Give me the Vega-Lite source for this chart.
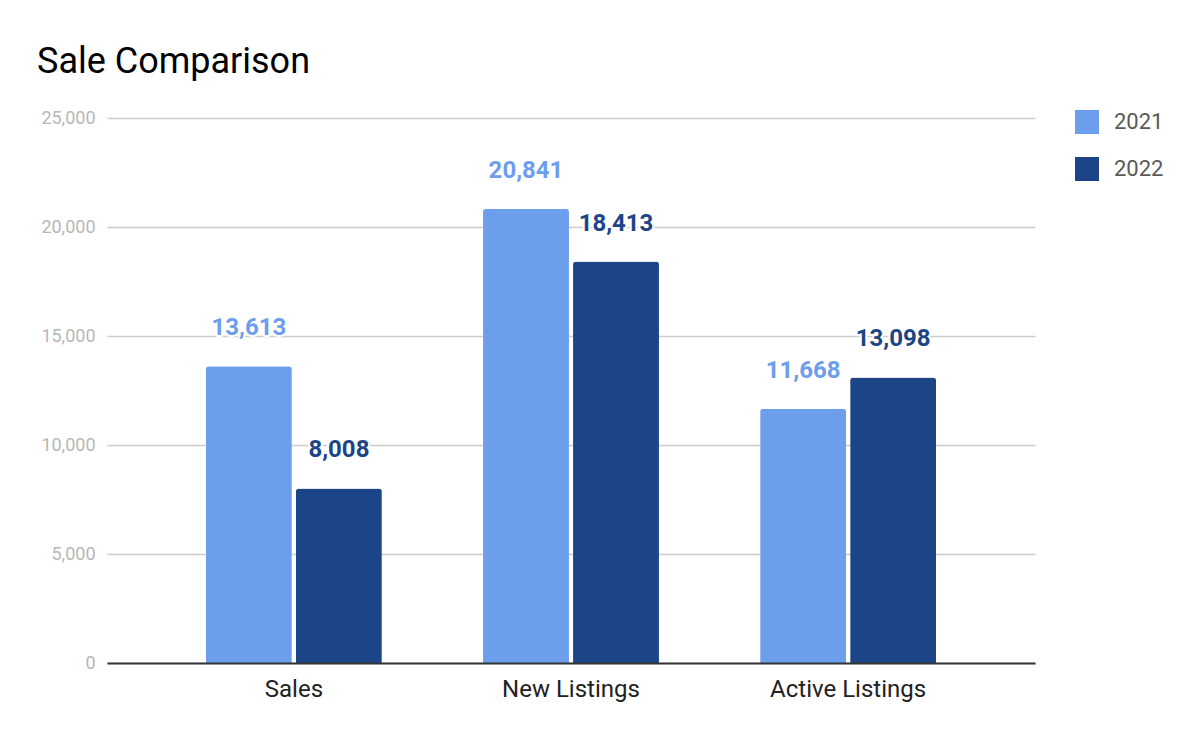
{
  "$schema": "https://vega.github.io/schema/vega-lite/v6.json",
  "width": 928,
  "height": 545,
  "autosize": {"type": "none"},
  "padding": {"left": 107, "top": 118, "right": 165, "bottom": 79},
  "background": "white",
  "config": {
    "font": "Roboto",
    "view": {"stroke": null}
  },
  "title": {
    "text": "Sale Comparison",
    "anchor": "start",
    "frame": "group",
    "dx": -70,
    "offset": 28,
    "fontSize": 36,
    "fontWeight": "normal",
    "color": "#000000",
    "font": "Roboto"
  },
  "data": {
    "values": [
      {"category": "Sales", "year": "2021", "value": 13613},
      {"category": "Sales", "year": "2022", "value": 8008},
      {"category": "New Listings", "year": "2021", "value": 20841},
      {"category": "New Listings", "year": "2022", "value": 18413},
      {"category": "Active Listings", "year": "2021", "value": 11668},
      {"category": "Active Listings", "year": "2022", "value": 13098}
    ]
  },
  "encoding": {
    "x": {
      "field": "category",
      "type": "nominal",
      "sort": ["Sales", "New Listings", "Active Listings"],
      "scale": {"paddingInner": 0.365, "paddingOuter": 0.357},
      "axis": {
        "title": null,
        "labelAngle": 0,
        "labelFontSize": 24,
        "labelColor": "#222222",
        "labelPadding": 14,
        "ticks": false,
        "domainColor": "#333333",
        "domainWidth": 2,
        "zindex": 1
      }
    },
    "xOffset": {
      "field": "year",
      "type": "nominal",
      "scale": {"paddingInner": 0.045}
    },
    "y": {
      "field": "value",
      "type": "quantitative",
      "scale": {"domain": [0, 25000], "nice": false},
      "axis": {
        "title": null,
        "values": [0, 5000, 10000, 15000, 20000, 25000],
        "format": ",.0f",
        "labelFontSize": 18,
        "labelColor": "#b7b7b7",
        "labelPadding": 12,
        "ticks": false,
        "domain": false,
        "gridColor": "#cccccc",
        "gridWidth": 1.5
      }
    }
  },
  "layer": [
    {
      "mark": {"type": "bar", "cornerRadiusTopLeft": 3, "cornerRadiusTopRight": 3},
      "encoding": {
        "color": {
          "field": "year",
          "type": "nominal",
          "scale": {"domain": ["2021", "2022"], "range": ["#6d9eeb", "#1c4587"]},
          "legend": {
            "title": null,
            "orient": "none",
            "legendX": 968,
            "legendY": -8,
            "symbolType": "square",
            "symbolSize": 576,
            "symbolStrokeWidth": 0,
            "symbolOpacity": 1,
            "labelFontSize": 22,
            "labelColor": "#595959",
            "labelOffset": 15,
            "rowPadding": 23
          }
        }
      }
    },
    {
      "mark": {
        "type": "text",
        "baseline": "middle",
        "dy": -38,
        "fontSize": 24,
        "fontWeight": "bold",
        "stroke": "white",
        "strokeWidth": 4,
        "strokeJoin": "round"
      },
      "encoding": {
        "text": {"field": "value", "type": "quantitative", "format": ",.0f"}
      }
    },
    {
      "mark": {
        "type": "text",
        "baseline": "middle",
        "dy": -38,
        "fontSize": 24,
        "fontWeight": "bold"
      },
      "encoding": {
        "text": {"field": "value", "type": "quantitative", "format": ",.0f"},
        "color": {"field": "year", "type": "nominal", "legend": null}
      }
    }
  ]
}
